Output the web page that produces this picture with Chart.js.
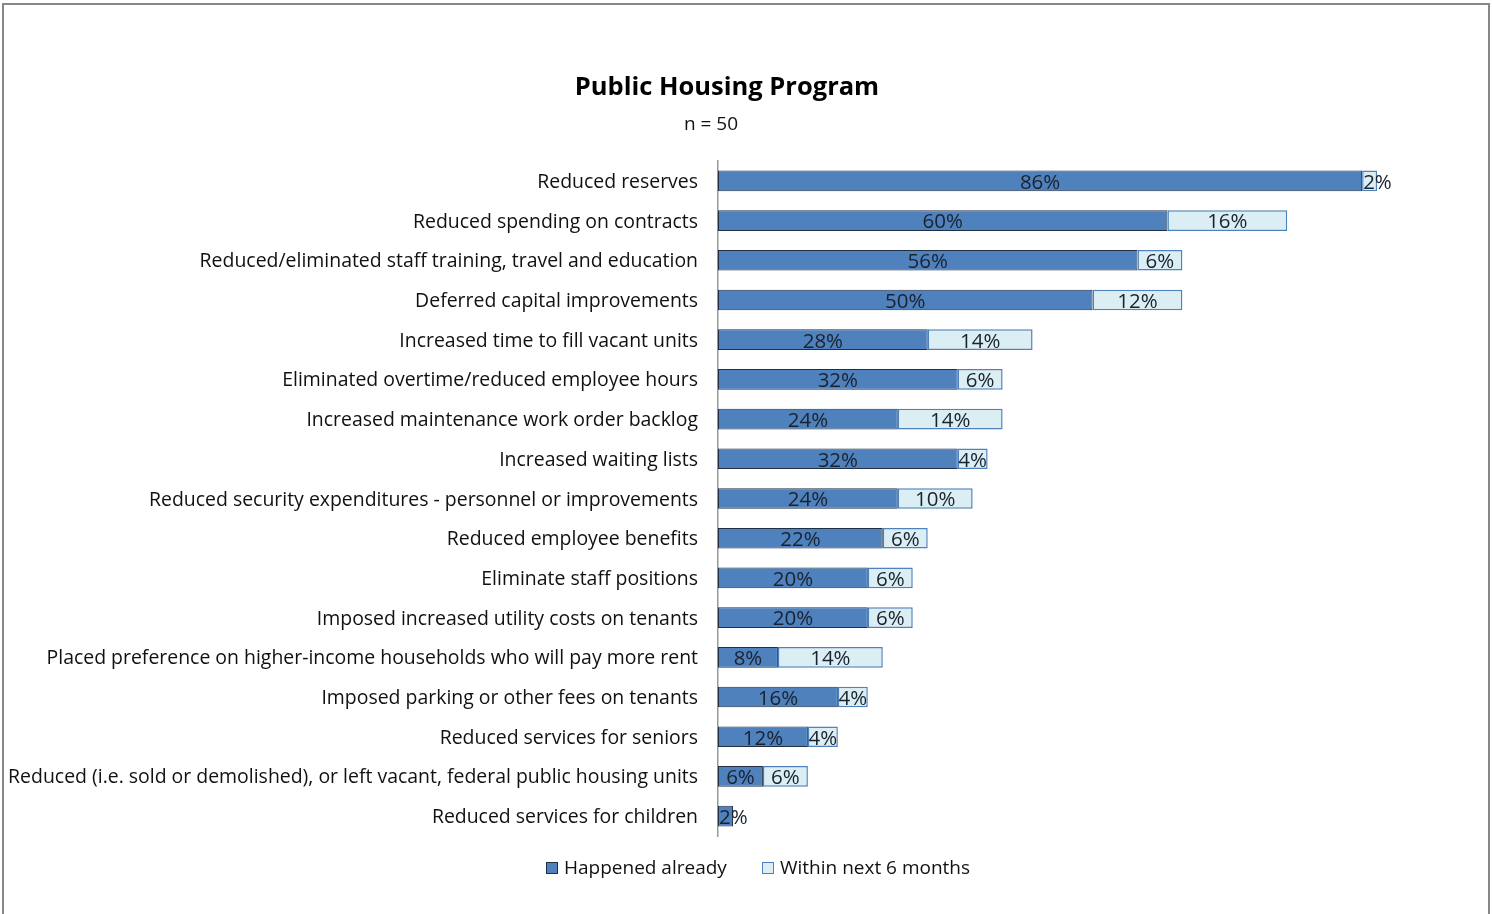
<!DOCTYPE html>
<html>
<head>
<meta charset="utf-8">
<script src="https://cdn.jsdelivr.net/npm/chart.js@4"></script>
<style>
html,body{margin:0;padding:0;background:#fff;overflow:hidden;}
#wrap{position:relative;width:1492px;height:914px;}
#frame{position:absolute;left:2px;top:3px;width:1488px;height:920px;border:2px solid #888;border-bottom:none;box-sizing:border-box;pointer-events:none;}
canvas{position:absolute;left:0;top:0;}
</style>
</head>
<body>
<div id="wrap"><canvas id="c" width="1492" height="914"></canvas><div id="frame"></div></div>
<script>
const titleText = "Public Housing Program";
const subtitleText = "n = 50";
const categories = [
  "Reduced reserves",
  "Reduced spending on contracts",
  "Reduced/eliminated staff training, travel and education",
  "Deferred capital improvements",
  "Increased time to fill vacant units",
  "Eliminated overtime/reduced employee hours",
  "Increased maintenance work order backlog",
  "Increased waiting lists",
  "Reduced security expenditures - personnel or improvements",
  "Reduced employee benefits",
  "Eliminate staff positions",
  "Imposed increased utility costs on tenants",
  "Placed preference on higher-income households who will pay more rent",
  "Imposed parking or other fees on tenants",
  "Reduced services for seniors",
  "Reduced (i.e. sold or demolished), or left vacant, federal public housing units",
  "Reduced services for children"
];
const happenedAlready = [86,60,56,50,28,32,24,32,24,22,20,20,8,16,12,6,2];
const withinNext6Months = [2,16,6,12,14,6,14,4,10,6,6,6,14,4,4,6,0];
const seriesNames = ["Happened already","Within next 6 months"];

const FONT = "'Open Sans', sans-serif";

const labelPlugin = {
  id: 'barLabels',
  afterDatasetsDraw(chart) {
    const ctx = chart.ctx;
    ctx.save();
    ctx.font = "20.5px " + FONT;
    ctx.fillStyle = "#1a2230";
    ctx.textBaseline = "middle";
    chart.data.datasets.forEach((ds, di) => {
      const meta = chart.getDatasetMeta(di);
      meta.data.forEach((bar, i) => {
        const v = ds.data[i];
        if (!v) return;
        const props = bar.getProps(['x','base','y'], true);
        const txt = v + "%";
        const w = ctx.measureText(txt).width;
        const segW = Math.abs(props.x - props.base);
        if (w > segW + 4) {
          ctx.textAlign = "left";
          ctx.fillText(txt, Math.min(props.x, props.base) + 1, props.y + 2);
        } else {
          ctx.textAlign = "center";
          ctx.fillText(txt, (props.x + props.base) / 2, props.y + 2);
        }
      });
    });
    ctx.restore();
  }
};

const headerPlugin = {
  id: 'header',
  afterDraw(chart) {
    const ctx = chart.ctx;
    ctx.save();
    ctx.fillStyle = "#000";
    ctx.textAlign = "center";
    ctx.textBaseline = "middle";
    ctx.font = "bold 25.5px " + FONT;
    ctx.fillText(titleText, 727, 88);
    ctx.font = "19px " + FONT;
    ctx.fillStyle = "#111";
    ctx.fillText(subtitleText, 711, 125);
    const items = [
      {x:546, text:seriesNames[0], fill:"#4F81BD", stroke:"#1F2F44"},
      {x:762, text:seriesNames[1], fill:"#DBEEF4", stroke:"#4F81BD"}
    ];
    ctx.textAlign = "left";
    items.forEach(it => {
      ctx.fillStyle = it.fill;
      ctx.fillRect(it.x, 862, 12, 12);
      ctx.strokeStyle = it.stroke;
      ctx.lineWidth = 1;
      ctx.strokeRect(it.x + 0.5, 862.5, 11, 11);
      ctx.fillStyle = "#111";
      ctx.fillText(it.text, it.x + 18, 869);
    });
    ctx.restore();
  }
};

new Chart(document.getElementById('c'), {
  type: 'bar',
  data: {
    labels: categories,
    datasets: [
      {label: seriesNames[0], data: happenedAlready, backgroundColor: "#4F81BD", borderColor: "#1F2F44", borderWidth: 1, borderSkipped: false, barPercentage: 0.52, categoryPercentage: 1},
      {label: seriesNames[1], data: withinNext6Months, backgroundColor: "#DBEEF4", borderColor: "#4F81BD", borderWidth: 1.5, borderSkipped: false, barPercentage: 0.52, categoryPercentage: 1}
    ]
  },
  options: {
    indexAxis: 'y',
    responsive: false,
    animation: false,
    devicePixelRatio: 1,
    layout: {padding: {left: 0, right: 25, top: 161, bottom: 78}},
    plugins: {legend: {display: false}, title: {display: false}, tooltip: {enabled: false}},
    scales: {
      x: {stacked: true, min: 0, max: 100, display: false},
      y: {
        stacked: true,
        grid: {display: false},
        border: {display: true, color: "#999", width: 1.5},
        ticks: {color: "#111", font: {family: FONT, size: 19.45}, padding: 12, labelOffset: 1.5, autoSkip: false},
        afterFit(scale) { scale.width = 718; }
      }
    }
  },
  plugins: [labelPlugin, headerPlugin]
});
</script>
</body>
</html>
